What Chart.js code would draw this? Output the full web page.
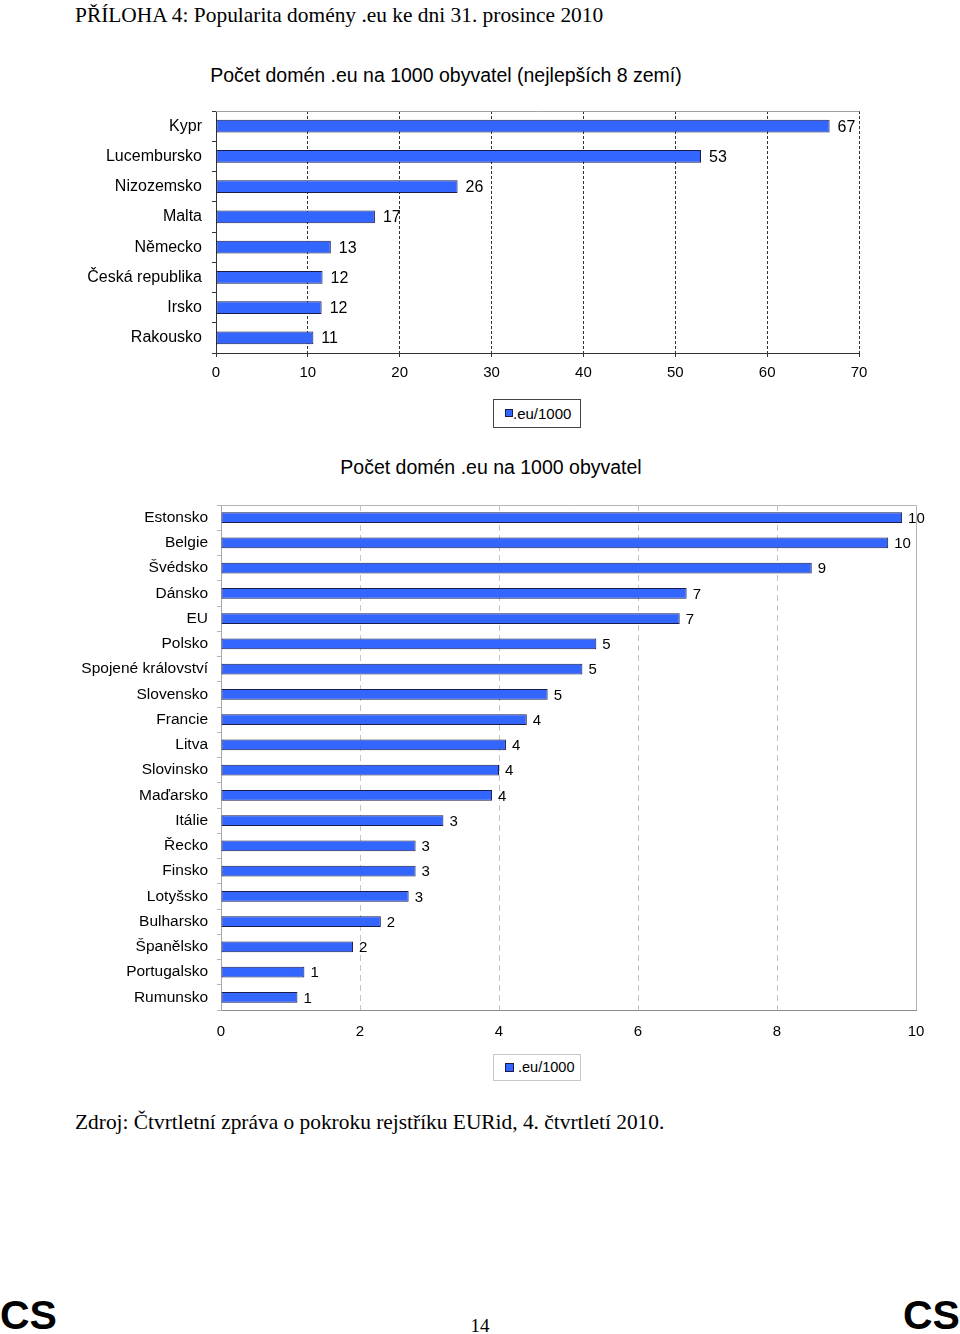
<!DOCTYPE html>
<html lang="cs">
<head>
<meta charset="utf-8">
<title>Popularita domény .eu</title>
<script src="https://cdn.jsdelivr.net/npm/chart.js@4/dist/chart.umd.min.js"></script>
<style>
  html, body { margin: 0; padding: 0; background: #fff; }
  #page { position: relative; width: 960px; height: 1334px; overflow: hidden; background: #fff; }
  .serif { position: absolute; font-family: "Liberation Serif", "Times New Roman", serif; line-height: 1; white-space: nowrap; color: #000; }
  .sans  { position: absolute; font-family: "Liberation Sans", Arial, sans-serif; line-height: 1; white-space: nowrap; color: #000; }
  .center { transform: translateX(-50%); }
  .cs { font-weight: bold; font-size: 41px; }
  canvas { position: absolute; left: 0; }
  .legend { position: absolute; box-sizing: border-box; font-family: "Liberation Sans", Arial, sans-serif; font-size: 15px; line-height: 1; white-space: nowrap; }
  .legend i { position: absolute; box-sizing: border-box; background: #3366ff; border: 1px solid #1a1a4d; }
  .legend span { position: absolute; }
</style>
</head>
<body>
<div id="page">
  <div class="serif" style="left:75px;top:5px;font-size:21.4px;">PŘÍLOHA 4: Popularita domény .eu ke dni 31. prosince 2010</div>

  <div class="sans center" style="left:446px;top:66px;font-size:19.5px;">Počet domén .eu na 1000 obyvatel (nejlepších 8 zemí)</div>
  <canvas id="chartTop" width="960" height="290" style="top:100px;"></canvas>
  <div class="legend" style="left:493px;top:399px;width:88px;height:29px;border:1px solid #444;">
    <i style="left:11px;top:9px;width:8px;height:8px;"></i><span style="left:19px;top:6px;">.eu/1000</span>
  </div>

  <div class="sans center" style="left:491px;top:458px;font-size:19.5px;">Počet domén .eu na 1000 obyvatel</div>
  <canvas id="chartAll" width="960" height="560" style="top:490px;"></canvas>
  <div class="legend" style="left:493px;top:1054px;width:88px;height:27px;border:1px solid #c8c8c8;">
    <i style="left:11px;top:8px;width:9px;height:9px;"></i><span style="left:24px;top:5px;font-size:14.5px;">.eu/1000</span>
  </div>

  <div class="serif" style="left:75px;top:1112px;font-size:21.4px;">Zdroj: Čtvrtletní zpráva o pokroku rejstříku EURid, 4. čtvrtletí 2010.</div>

  <div class="sans cs" style="left:0px;top:1295px;">CS</div>
  <div class="serif center" style="left:480px;top:1316px;font-size:19px;">14</div>
  <div class="sans cs" style="left:903px;top:1295px;">CS</div>
</div>

<script>
// ---- Datos ----
const topLabels = ['Kypr', 'Lucembursko', 'Nizozemsko', 'Malta', 'Německo', 'Česká republika', 'Irsko', 'Rakousko'];
const topValues = [66.8, 52.8, 26.3, 17.3, 12.5, 11.6, 11.5, 10.6];
const topTicks  = [0, 10, 20, 30, 40, 50, 60, 70];

const allLabels = ['Estonsko', 'Belgie', 'Švédsko', 'Dánsko', 'EU', 'Polsko', 'Spojené království', 'Slovensko',
                   'Francie', 'Litva', 'Slovinsko', 'Maďarsko', 'Itálie', 'Řecko', 'Finsko', 'Lotyšsko',
                   'Bulharsko', 'Španělsko', 'Portugalsko', 'Rumunsko'];
const allValues = [9.8, 9.6, 8.5, 6.7, 6.6, 5.4, 5.2, 4.7, 4.4, 4.1, 4.0, 3.9, 3.2, 2.8, 2.8, 2.7, 2.3, 1.9, 1.2, 1.1];
const allTicks  = [0, 2, 4, 6, 8, 10];

const seriesName = '.eu/1000';

(function(){
  'use strict';

  const SANS = '"Liberation Sans", Arial, sans-serif';
  Chart.defaults.font.family = SANS;
  Chart.defaults.color = '#000';

  // Etiquetas de valor al final de cada barra (redondeadas, como en Excel)
  const valueLabels = {
    id: 'valueLabels',
    afterDatasetsDraw(chart, args, opts) {
      const ctx = chart.ctx;
      const meta = chart.getDatasetMeta(0);
      const data = chart.data.datasets[0].data;
      ctx.save();
      ctx.font = opts.font;
      ctx.fillStyle = '#000';
      ctx.textAlign = 'left';
      ctx.textBaseline = 'middle';
      meta.data.forEach((bar, i) => {
        ctx.fillText(String(Math.round(data[i])), bar.x + opts.offset, bar.y + 1);
      });
      ctx.restore();
    }
  };

  // Borde superior (y derecho) del área de trazado
  const frame = {
    id: 'frame',
    beforeDatasetsDraw(chart, args, opts) {
      const ctx = chart.ctx;
      const a = chart.chartArea;
      ctx.save();
      ctx.strokeStyle = opts.color;
      ctx.lineWidth = 1;
      ctx.beginPath();
      ctx.moveTo(Math.round(a.left), Math.round(a.top) + 0.5);
      ctx.lineTo(Math.round(a.right) + 0.5, Math.round(a.top) + 0.5);
      if (opts.right) {
        ctx.moveTo(Math.round(a.right) + 0.5, Math.round(a.top) + 0.5);
        ctx.lineTo(Math.round(a.right) + 0.5, Math.round(a.bottom));
      }
      ctx.stroke();
      ctx.restore();
    }
  };

  // sin relleno extra de las escalas: el área la fija layout.padding
  const noPad = (s) => { s.paddingTop = 0; s.paddingBottom = 0; s.paddingLeft = 0; s.paddingRight = 0; };

  function buildBar(canvasId, labels, values, ticks, cfg) {
    const canvas = document.getElementById(canvasId);
    const last = ticks[ticks.length - 1];
    return new Chart(canvas.getContext('2d'), {
      type: 'bar',
      data: {
        labels,
        datasets: [{
          label: seriesName,
          data: values,
          backgroundColor: '#3366ff',
          borderColor: '#1a1a4d',
          borderWidth: 1,
          borderSkipped: false,
          barPercentage: 0.42,
          categoryPercentage: 1
        }]
      },
      options: {
        indexAxis: 'y',
        responsive: false,
        animation: false,
        devicePixelRatio: 1,
        layout: { padding: cfg.padding },
        scales: {
          x: {
            min: ticks[0],
            max: last,
            afterBuildTicks: (s) => { s.ticks = ticks.map(v => ({ value: v })); },
            afterFit: (s) => { s.height = cfg.xHeight; noPad(s); },
            ticks: { font: { size: 15 }, padding: cfg.xPad, maxRotation: 0 },
            grid: {
              color: (c) => (c.tick && (c.tick.value === 0 || (cfg.rightSolid && c.tick.value === last))) ? 'rgba(0,0,0,0)' : cfg.gridColor,
              lineWidth: 1,
              drawTicks: cfg.xTicks,
              tickLength: 4,
              tickColor: cfg.axisColor,
              tickBorderDash: []
            },
            border: { display: true, color: cfg.axisColor, width: 1, dash: cfg.gridDash }
          },
          y: {
            afterFit: (s) => { s.width = cfg.yWidth; noPad(s); },
            ticks: { font: { size: cfg.catSize }, padding: cfg.yPad, autoSkip: false },
            grid: {
              drawOnChartArea: false,
              drawTicks: true,
              tickLength: 4,
              color: cfg.catTickColor,
              tickColor: cfg.catTickColor
            },
            border: { display: true, color: cfg.yAxisColor, width: 1 }
          }
        },
        plugins: {
          legend: { display: false },
          tooltip: { enabled: false },
          valueLabels: { font: cfg.valFont, offset: cfg.valOffset },
          frame: { color: cfg.frameColor, right: cfg.rightSolid }
        }
      },
      plugins: [frame, valueLabels]
    });
  }

  // ---- Gráfico 1: mejores 8 países ----
  buildBar('chartTop', topLabels, topValues, topTicks, {
    padding: { left: 0, right: 101, top: 11, bottom: 0 },
    yWidth: 216,
    xHeight: 37,
    xPad: 7,
    yPad: 10,
    xTicks: true,
    catSize: 16,
    gridColor: '#333',
    gridDash: [3, 2],
    axisColor: '#333',
    yAxisColor: '#333',
    catTickColor: '#333',
    frameColor: '#a0a0a0',
    rightSolid: false,
    valFont: '16px ' + SANS,
    valOffset: 8
  });

  // ---- Gráfico 2: todos los países ----
  buildBar('chartAll', allLabels, allValues, allTicks, {
    padding: { left: 0, right: 44, top: 15, bottom: 0 },
    yWidth: 221,
    xHeight: 40,
    xPad: 13,
    yPad: 9,
    xTicks: false,
    catSize: 15.5,
    gridColor: '#c4c4c4',
    gridDash: [6, 4],
    axisColor: '#8c8c8c',
    yAxisColor: '#a8a8a8',
    catTickColor: '#b4b4b4',
    frameColor: '#b4b4b4',
    rightSolid: true,
    valFont: '15px ' + SANS,
    valOffset: 6
  });
})();
</script>
</body>
</html>
